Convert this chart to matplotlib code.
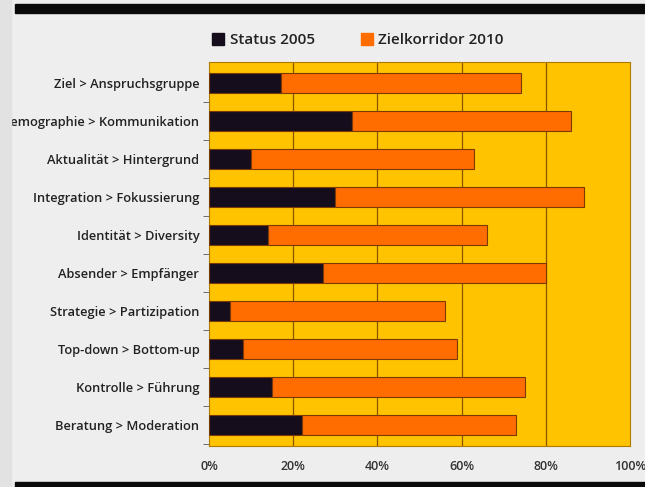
import matplotlib.pyplot as plt
from matplotlib.patches import Rectangle, Patch
from matplotlib.ticker import FixedLocator, PercentFormatter

categories = ['Ziel > Anspruchsgruppe', 'Demographie > Kommunikation',
              'Aktualität > Hintergrund', 'Integration > Fokussierung',
              'Identität > Diversity', 'Absender > Empfänger',
              'Strategie > Partizipation', 'Top-down > Bottom-up',
              'Kontrolle > Führung', 'Beratung > Moderation']
status_2005 = [17, 34, 10, 30, 14, 27, 5, 8, 15, 22]
ziel_2010 = [74, 86, 63, 89, 66, 80, 56, 59, 75, 73]
xticks = [0, 20, 40, 60, 80, 100]

plt.rcParams['font.family'] = ['Open Sans', 'DejaVu Sans']

black = '#150d1c'
orange = '#ff6c00'
yellow = '#ffc300'
edge = '#7a3a08'

fig = plt.figure(figsize=(6.45, 4.87), dpi=100, facecolor='#eeeeee')
ax = fig.add_axes([209/645, 1-446/487, 421/645, 384/487])
ax.set_facecolor(yellow)

# black bands top and bottom of the page, grey page edge on the left
fig.patches.append(Rectangle((15/645, 1-13/487), 1, 9/487, transform=fig.transFigure,
                             color='#0a0a0a', zorder=0))
fig.patches.append(Rectangle((15/645, 0), 1, 5/487, transform=fig.transFigure,
                             color='#0a0a0a', zorder=0))
fig.patches.append(Rectangle((0, 0), 11/645, 1, transform=fig.transFigure,
                             color='#e2e2e2', zorder=0))

y = list(range(len(categories)))
widths = [z - s for z, s in zip(ziel_2010, status_2005)]
ax.barh(y, status_2005, height=0.54, color=black, edgecolor=edge, linewidth=0.8, zorder=3)
ax.barh(y, widths, left=status_2005, height=0.54, color=orange, edgecolor=edge,
        linewidth=0.8, zorder=3)

ax.set_xlim(0, 100)
ax.set_ylim(len(categories) - 0.45, -0.55)
ax.set_xticks(xticks)
ax.xaxis.set_major_formatter(PercentFormatter(decimals=0))
ax.set_yticks(y)
ax.set_yticklabels(categories)
ax.yaxis.set_minor_locator(FixedLocator([i + 0.5 for i in range(len(categories))]))
ax.tick_params(axis='y', which='major', length=0, pad=7, labelsize=9.3, labelcolor='#222222')
ax.tick_params(axis='y', which='minor', length=4, color='#555555', direction='out')
ax.tick_params(axis='x', length=0, pad=10, labelsize=9, labelcolor='#333333')
for lbl in ax.get_yticklabels() + ax.get_xticklabels():
    lbl.set_fontweight('semibold')

for xv in xticks[1:-1]:
    ax.axvline(xv, color='#8a5500', linewidth=0.9, zorder=1)
for side in ax.spines.values():
    side.set_color('#b07a00')
    side.set_linewidth(0.8)

handles = [Patch(color=black, label='Status 2005'), Patch(color=orange, label='Zielkorridor 2010')]
leg = fig.legend(handles=handles, loc='center', bbox_to_anchor=(358/645, 1-40/487), ncol=2,
                 frameon=False, fontsize=11, handlelength=0.8, handleheight=0.8,
                 handletextpad=0.35, columnspacing=3.0)
for t in leg.get_texts():
    t.set_fontweight('semibold')
    t.set_color('#222222')

fig.savefig('out.png', dpi=100, facecolor=fig.get_facecolor())
